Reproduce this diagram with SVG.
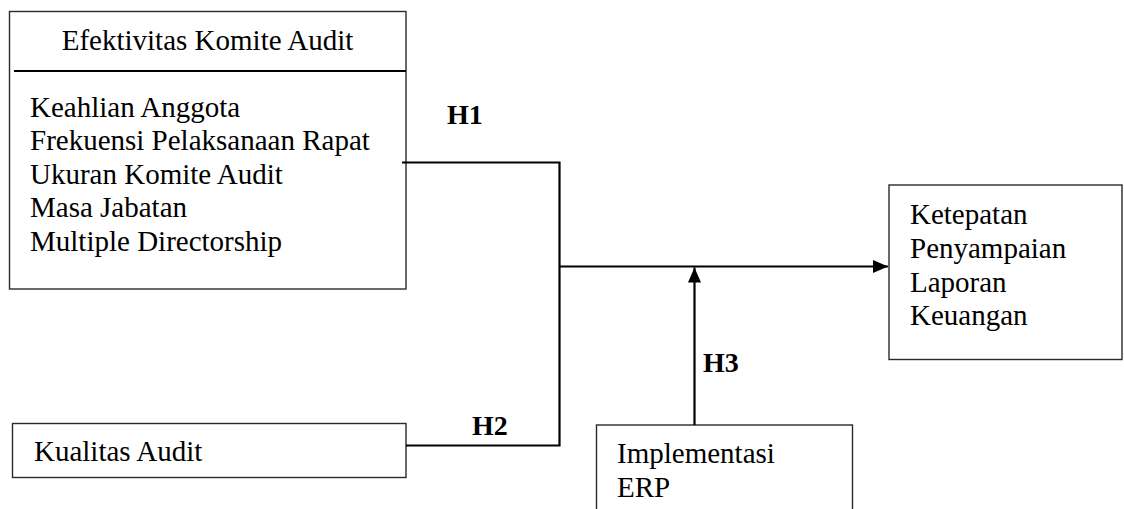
<svg xmlns="http://www.w3.org/2000/svg" width="1124" height="509" viewBox="0 0 1124 509">
<style>
.box{fill:#fff;stroke:#2a2a2a;stroke-width:1.4}
.t{font-family:"Liberation Serif","Times New Roman",serif;font-size:29px;fill:#000}
.h{font-family:"Liberation Serif","Times New Roman",serif;font-size:28px;font-weight:bold;fill:#000}
.c{fill:none;stroke:#000;stroke-width:2.2}
</style>
<defs>
<marker id="arr" markerUnits="userSpaceOnUse" markerWidth="16" markerHeight="14" refX="15" refY="6.5" orient="auto">
<path d="M0,0 L15,6.5 L0,13 Z" fill="#000"/>
</marker>
</defs>
<g id="efektivitas">
<rect class="box" x="9.5" y="11.5" width="396.5" height="277.5"/>
<line x1="14" y1="71" x2="406" y2="71" stroke="#000" stroke-width="2"/>
<text class="t" x="207.5" y="49.5" text-anchor="middle">Efektivitas Komite Audit</text>
<text class="t" x="30" y="117">Keahlian Anggota</text>
<text class="t" x="30" y="150">Frekuensi Pelaksanaan Rapat</text>
<text class="t" x="30" y="183.5">Ukuran Komite Audit</text>
<text class="t" x="30" y="217">Masa Jabatan</text>
<text class="t" x="30" y="250.5">Multiple Directorship</text>
</g>
<g id="kualitas">
<rect class="box" x="12.5" y="423.5" width="393.5" height="54"/>
<text class="t" x="34" y="461">Kualitas Audit</text>
</g>
<g id="ketepatan">
<rect class="box" x="889" y="185" width="233" height="174.5"/>
<text class="t" x="910" y="223.5">Ketepatan</text>
<text class="t" x="910" y="257.5">Penyampaian</text>
<text class="t" x="910" y="291.5">Laporan</text>
<text class="t" x="910" y="325">Keuangan</text>
</g>
<g id="erp">
<rect class="box" x="596.5" y="425" width="256" height="100"/>
<text class="t" x="617" y="463">Implementasi</text>
<text class="t" x="617" y="497">ERP</text>
</g>
<g id="connectors">
<polyline class="c" points="402,162.5 559.5,162.5 559.5,445.5 406,445.5"/>
<line class="c" x1="559.5" y1="266.5" x2="888" y2="266.5" marker-end="url(#arr)"/>
<line class="c" x1="694.5" y1="425" x2="694.5" y2="267.5" marker-end="url(#arr)"/>
<text class="h" x="447" y="124">H1</text>
<text class="h" x="472" y="435">H2</text>
<text class="h" x="703" y="372">H3</text>
</g>
</svg>
